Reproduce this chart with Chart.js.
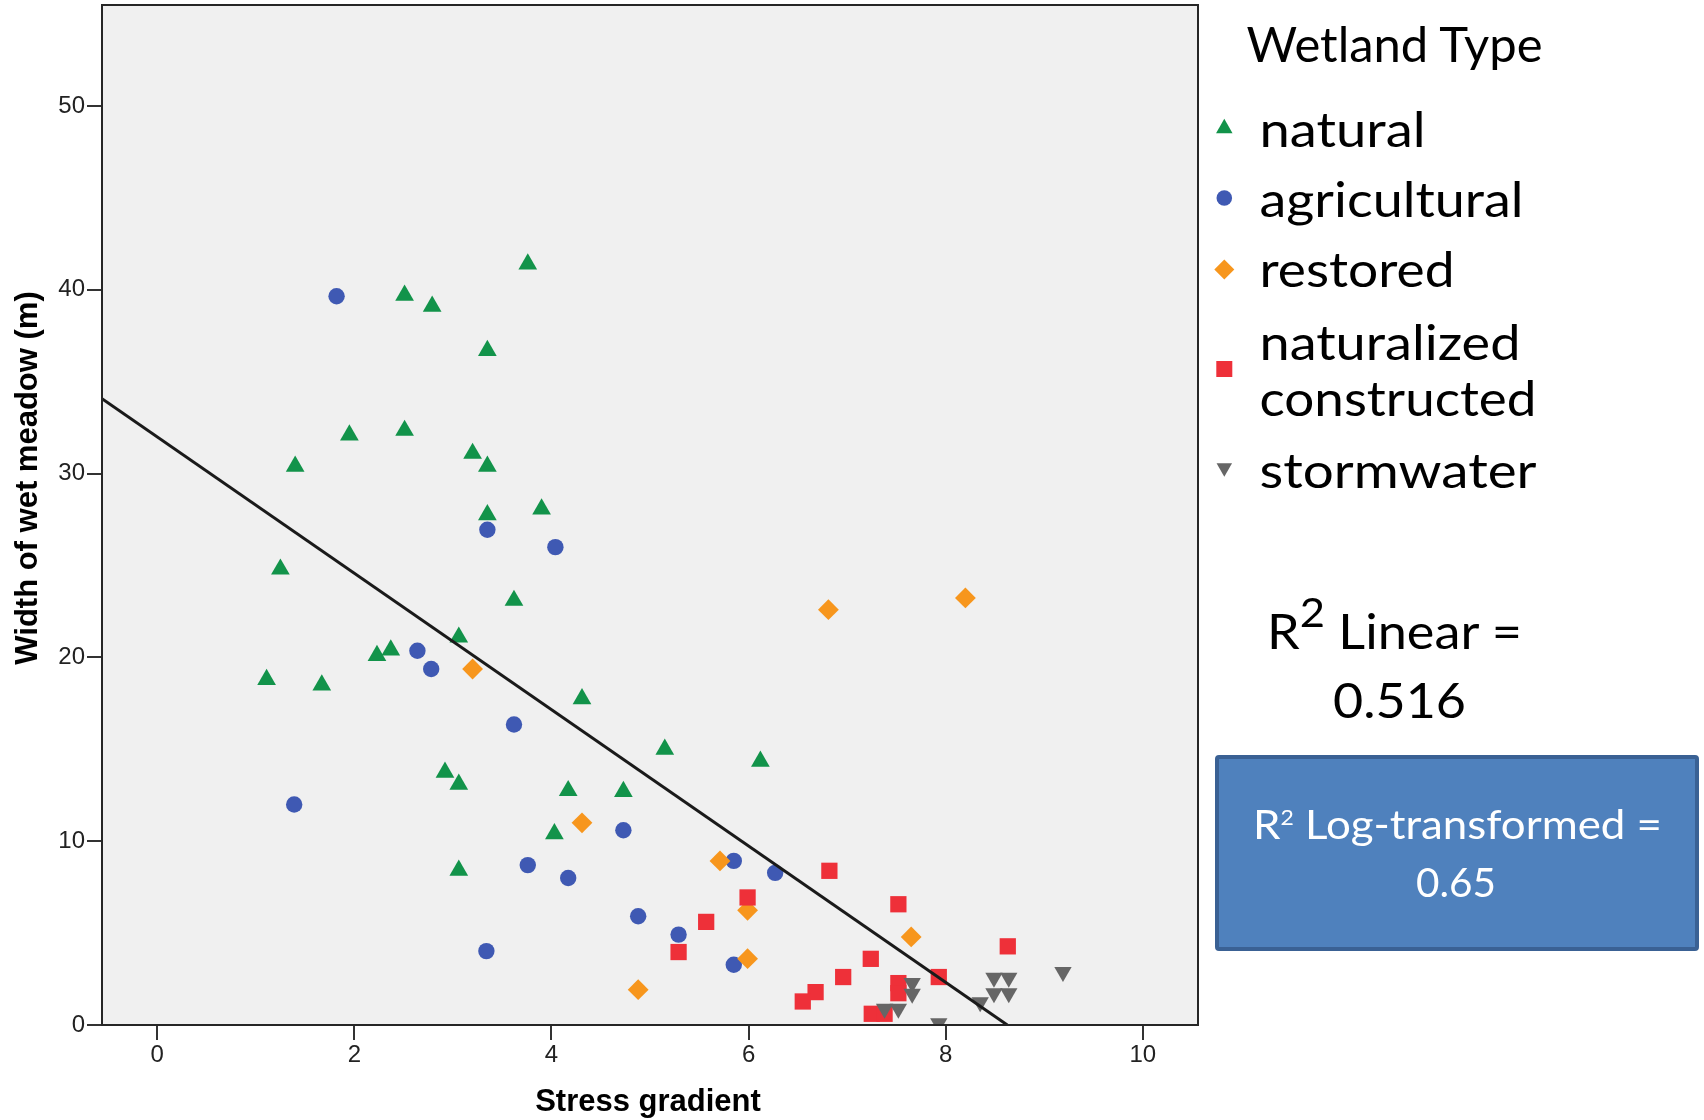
<!DOCTYPE html>
<html>
<head>
<meta charset="utf-8">
<script src="https://cdn.jsdelivr.net/npm/chart.js@4"></script>
<style>
html,body{margin:0;padding:0;background:#ffffff;}
#wrap{position:relative;width:1704px;height:1120px;overflow:hidden;}
#wrap canvas{position:absolute;left:0;top:0;}
#ov{position:absolute;left:0;top:0;pointer-events:none;}
</style>
</head>
<body>
<div id="wrap">
<canvas id="c" width="1704" height="1120"></canvas>
<svg id="ov" width="1704" height="1120" xmlns="http://www.w3.org/2000/svg"></svg>
</div>
<script>
// ---------------- data ----------------
const seriesNames = ['natural', 'agricultural', 'restored', 'naturalized constructed', 'stormwater'];

const naturalX = [3.76, 2.51, 2.79, 3.35, 1.95, 2.51, 1.40, 3.20, 3.35, 3.35, 3.90, 1.25, 3.62, 3.06, 2.23, 2.37, 1.11, 1.67, 4.31, 5.15, 6.12, 2.92, 3.06, 4.17, 4.73, 4.03, 3.06];
const naturalY = [41.4, 39.7, 39.1, 36.7, 32.1, 32.35, 30.4, 31.1, 30.4, 27.76, 28.07, 24.8, 23.1, 21.1, 20.1, 20.4, 18.8, 18.5, 17.75, 15.0, 14.35, 13.75, 13.1, 12.75, 12.7, 10.4, 8.42];

const agriX = [1.82, 3.35, 4.04, 2.64, 2.78, 3.62, 1.39, 4.73, 3.76, 4.17, 3.34, 5.85, 6.27, 4.88, 5.29, 5.85];
const agriY = [39.65, 26.95, 26.0, 20.36, 19.37, 16.35, 12.0, 10.6, 8.7, 8.0, 4.02, 8.93, 8.28, 5.92, 4.92, 3.28];

const restoredX = [3.20, 4.31, 6.81, 8.20, 5.71, 5.99, 5.99, 7.65, 4.88];
const restoredY = [19.37, 11.0, 22.6, 23.24, 8.93, 6.24, 3.61, 4.79, 1.92];

const natConX = [6.82, 5.99, 7.52, 5.57, 5.29, 8.63, 7.24, 6.96, 7.93, 7.52, 7.52, 6.68, 6.55, 7.25, 7.38];
const natConY = [8.39, 6.94, 6.57, 5.61, 3.97, 4.28, 3.60, 2.61, 2.61, 2.28, 1.73, 1.79, 1.28, 0.61, 0.61];

const stormX = [7.66, 7.66, 7.38, 7.52, 7.93, 8.35, 8.49, 8.64, 8.49, 8.64, 9.19];
const stormY = [2.28, 1.70, 0.88, 0.88, 0.10, 1.24, 2.57, 2.57, 1.73, 1.73, 2.88];

// linear fit
const fitIntercept = 32.0;
const fitSlope = -3.71;

const xTickValues = [0, 2, 4, 6, 8, 10];
const yTickValues = [0, 10, 20, 30, 40, 50];
const xAxisRange = [-0.56, 10.56];
const yAxisRange = [0, 55.5];

const xTitle = 'Stress gradient';
const yTitle = 'Width of wet meadow (m)';
const legendTitle = 'Wetland Type';
const r2Linear = '0.516';
const r2Log = '0.65';

// ---------------- styles ----------------
const colors = ['#12934a', '#3f59b3', '#f7961d', '#ee3039', '#666666'];
const styles = [
  {pointStyle: 'triangle', rotation: 0, radius: 10.8},
  {pointStyle: 'circle', rotation: 0, radius: 8.2},
  {pointStyle: 'rectRot', rotation: 0, radius: 10.4},
  {pointStyle: 'rect', rotation: 0, radius: 11.5},
  {pointStyle: 'triangle', rotation: 180, radius: 10}
];
const seriesX = [naturalX, agriX, restoredX, natConX, stormX];
const seriesY = [naturalY, agriY, restoredY, natConY, stormY];

function pts(xs, ys) { return xs.map((x, i) => ({x: x, y: ys[i]})); }

const fitLine = [
  {x: xAxisRange[0], y: fitIntercept + fitSlope * xAxisRange[0]},
  {x: -fitIntercept / fitSlope, y: 0}
];

const datasets = [{
  type: 'line', label: 'Linear fit', data: fitLine,
  borderColor: '#1a1a1a', borderWidth: 3, pointRadius: 0, fill: false,
  order: 0, clip: 0
}];
// later series drawn on top
for (let i = 0; i < seriesNames.length; i++) {
  datasets.push({
    label: seriesNames[i],
    data: pts(seriesX[i], seriesY[i]),
    pointStyle: styles[i].pointStyle,
    pointRotation: styles[i].rotation,
    pointRadius: styles[i].radius,
    pointHoverRadius: styles[i].radius,
    pointBackgroundColor: colors[i],
    pointBorderWidth: 0,
    pointBorderColor: colors[i],
    showLine: false,
    order: seriesNames.length - i,
    clip: 0
  });
}

const bgPlugin = {
  id: 'plotBg',
  beforeDraw(chart) {
    const {ctx, chartArea: a} = chart;
    ctx.save();
    ctx.fillStyle = '#f0f0f0';
    ctx.fillRect(a.left, a.top, a.right - a.left, a.bottom - a.top);
    ctx.restore();
  }
};
const framePlugin = {
  id: 'frame',
  afterDatasetsDraw(chart) {
    const {ctx, chartArea: a} = chart;
    ctx.save();
    ctx.strokeStyle = '#262626';
    ctx.lineWidth = 2;
    ctx.strokeRect(a.left, a.top, a.right - a.left, a.bottom - a.top);
    ctx.restore();
  }
};

const tickFont = {family: "'Liberation Sans Narrow', 'Liberation Sans', Arial, sans-serif", size: 24};

new Chart(document.getElementById('c'), {
  type: 'scatter',
  data: {datasets: datasets},
  options: {
    responsive: false,
    animation: false,
    devicePixelRatio: 1,
    events: [],
    layout: {autoPadding: false, padding: {left: 0, right: 506, top: 5, bottom: 0}},
    plugins: {legend: {display: false}, tooltip: {enabled: false}},
    scales: {
      x: {
        type: 'linear', min: xAxisRange[0], max: xAxisRange[1],
        afterFit(s) { s.height = 95; s.paddingLeft = 0; s.paddingRight = 0; s.paddingTop = 0; s.paddingBottom = 0; },
        afterBuildTicks(s) { s.ticks = xTickValues.map(v => ({value: v})); },
        grid: {drawOnChartArea: false, drawTicks: true, tickLength: 15, color: '#333333', lineWidth: 2},
        border: {display: false},
        ticks: {padding: 1, color: '#222222', font: tickFont, autoSkip: false, maxRotation: 0}
      },
      y: {
        type: 'linear', min: yAxisRange[0], max: yAxisRange[1],
        afterFit(s) { s.width = 102; s.paddingTop = 0; s.paddingBottom = 0; s.paddingLeft = 0; s.paddingRight = 0; },
        afterBuildTicks(s) { s.ticks = yTickValues.map(v => ({value: v})); },
        grid: {drawOnChartArea: false, drawTicks: true, tickLength: 15, color: '#333333', lineWidth: 2},
        border: {display: false},
        ticks: {padding: 2, color: '#222222', font: tickFont, autoSkip: false}
      }
    }
  },
  plugins: [bgPlugin, framePlugin]
});

// ---------------- overlay text (titles, legend, annotations) ----------------
const NS = 'http://www.w3.org/2000/svg';
const svg = document.getElementById('ov');
function el(tag, attrs, text) {
  const e = document.createElementNS(NS, tag);
  for (const k in attrs) e.setAttribute(k, attrs[k]);
  if (text !== undefined) e.textContent = text;
  svg.appendChild(e);
  return e;
}
function tspan(parent, attrs, text) {
  const e = document.createElementNS(NS, 'tspan');
  for (const k in attrs) e.setAttribute(k, attrs[k]);
  e.textContent = text;
  parent.appendChild(e);
  return e;
}

const axisFont = "'Liberation Sans', Arial, sans-serif";
el('text', {x: 648, y: 1111, 'text-anchor': 'middle', 'font-family': axisFont, 'font-weight': 'bold', 'font-size': 31, fill: '#000'}, xTitle);
el('text', {x: 37, y: 478, 'text-anchor': 'middle', transform: 'rotate(-90 37 478)', 'font-family': axisFont, 'font-weight': 'bold', 'font-size': 31, fill: '#000'}, yTitle);

const legFont = "Lato, 'Open Sans', sans-serif";
el('text', {x: 1246.5, y: 61.5, 'font-family': legFont, 'font-size': 48, fill: '#000', textLength: 296, lengthAdjust: 'spacingAndGlyphs'}, legendTitle);

const legendLineBaselines = [[146.5], [217], [287], [360, 416], [488]];
const legendLineWidths = [[166], [264], [195], [261, 277], [277]];
const legendMarkerY = [126, 198, 269.5, 369, 470];
const legendMarkerX = 1224.3;
const legendTextX = 1259.5;

function marker(i, cx, cy) {
  const c = colors[i];
  if (i === 0) {
    const w = 16.5, h = 14.5;
    el('polygon', {points: `${cx},${cy - h / 2} ${cx + w / 2},${cy + h / 2} ${cx - w / 2},${cy + h / 2}`, fill: c});
  } else if (i === 1) {
    el('circle', {cx: cx, cy: cy, r: 7.8, fill: c});
  } else if (i === 2) {
    const r = 10;
    el('polygon', {points: `${cx},${cy - r} ${cx + r},${cy} ${cx},${cy + r} ${cx - r},${cy}`, fill: c});
  } else if (i === 3) {
    el('rect', {x: cx - 8, y: cy - 8, width: 16, height: 16, fill: c});
  } else {
    const w = 15.5, h = 13.5;
    el('polygon', {points: `${cx - w / 2},${cy - h / 2} ${cx + w / 2},${cy - h / 2} ${cx},${cy + h / 2}`, fill: c});
  }
}

seriesNames.forEach((name, i) => {
  marker(i, legendMarkerX, legendMarkerY[i]);
  const lines = name.length > 12 ? name.split(' ') : [name];
  lines.forEach((ln, j) => {
    el('text', {x: legendTextX, y: legendLineBaselines[i][j], 'font-family': legFont, 'font-size': 48, fill: '#000',
      textLength: legendLineWidths[i][j], lengthAdjust: 'spacingAndGlyphs'}, ln);
  });
});

// R^2 linear annotation
const t1 = el('text', {x: 1267, y: 649, 'font-family': legFont, 'font-size': 48, fill: '#000', textLength: 255, lengthAdjust: 'spacingAndGlyphs'});
tspan(t1, {}, 'R');
tspan(t1, {'font-size': 40, dy: -22}, '2');
tspan(t1, {dy: 22}, ' Linear =');
el('text', {x: 1333, y: 718, 'font-family': legFont, 'font-size': 48, fill: '#000', textLength: 133, lengthAdjust: 'spacingAndGlyphs'}, r2Linear);

// blue box
el('rect', {x: 1217, y: 757, width: 480, height: 192, rx: 2, fill: '#4f81bd', stroke: '#3a6194', 'stroke-width': 4});
const t2 = el('text', {x: 1253, y: 839, 'font-family': legFont, 'font-size': 40, fill: '#fff', textLength: 409, lengthAdjust: 'spacingAndGlyphs'});
tspan(t2, {}, 'R');
tspan(t2, {'font-size': 21, dy: -14}, '2');
tspan(t2, {dy: 14}, ' Log-transformed =');
el('text', {x: 1416, y: 897, 'font-family': legFont, 'font-size': 40, fill: '#fff', textLength: 80, lengthAdjust: 'spacingAndGlyphs'}, r2Log);
</script>
</body>
</html>
